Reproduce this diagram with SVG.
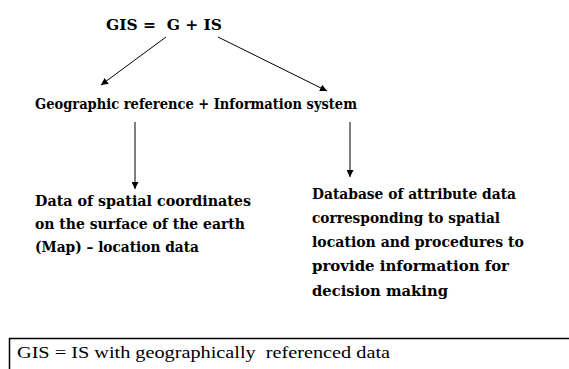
<svg xmlns="http://www.w3.org/2000/svg" width="569" height="369" viewBox="0 0 569 369">
<defs>
<marker id="ah" viewBox="0 0 10 10" refX="10" refY="5" markerWidth="7" markerHeight="7" markerUnits="userSpaceOnUse" orient="auto">
<path d="M0,0 L10,5 L0,10 z" fill="#000"/>
</marker>
<style>
text{white-space:pre}
.b{font-family:"DejaVu Serif","Liberation Serif",serif;font-weight:bold;fill:#000}
.t{font-family:"Liberation Serif","Times New Roman",serif;fill:#000;font-size:16px}
.c{stroke:#000;stroke-width:1;fill:none;marker-end:url(#ah)}
</style>
</defs>
<g id="title"><text class="b" x="106" y="30" font-size="15" textLength="116" lengthAdjust="spacingAndGlyphs" xml:space="preserve">GIS =  G + IS</text></g>
<g id="expansion"><text class="b" x="35" y="109" font-size="15.5" textLength="322" lengthAdjust="spacingAndGlyphs">Geographic reference + Information system</text></g>
<g id="left-desc">
<text class="b" x="35" y="206" font-size="15" textLength="216" lengthAdjust="spacingAndGlyphs">Data of spatial coordinates</text>
<text class="b" x="35" y="229" font-size="15" textLength="210" lengthAdjust="spacingAndGlyphs">on the surface of the earth</text>
<text class="b" x="35" y="252" font-size="15" textLength="164" lengthAdjust="spacingAndGlyphs">(Map) – location data</text>
</g>
<g id="right-desc">
<text class="b" x="312" y="199" font-size="15" textLength="204" lengthAdjust="spacingAndGlyphs">Database of attribute data</text>
<text class="b" x="312" y="223" font-size="15" textLength="188" lengthAdjust="spacingAndGlyphs">corresponding to spatial</text>
<text class="b" x="312" y="247" font-size="15" textLength="212" lengthAdjust="spacingAndGlyphs">location and procedures to</text>
<text class="b" x="312" y="271" font-size="15" textLength="197" lengthAdjust="spacingAndGlyphs">provide information for</text>
<text class="b" x="312" y="296" font-size="15" textLength="136" lengthAdjust="spacingAndGlyphs">decision making</text>
</g>
<g id="summary">
<rect x="9.5" y="338.5" width="570" height="60" fill="none" stroke="#000" stroke-width="1.5"/>
<text class="t" x="17" y="358" textLength="373" lengthAdjust="spacingAndGlyphs" xml:space="preserve">GIS = IS with geographically  referenced data</text>
</g>
<g id="connectors">
<line class="c" x1="166" y1="37" x2="101" y2="85"/>
<line class="c" x1="218" y1="37" x2="327" y2="91"/>
<line class="c" x1="135" y1="122" x2="135" y2="189"/>
<line class="c" x1="350" y1="122" x2="350" y2="177"/>
</g>
</svg>
